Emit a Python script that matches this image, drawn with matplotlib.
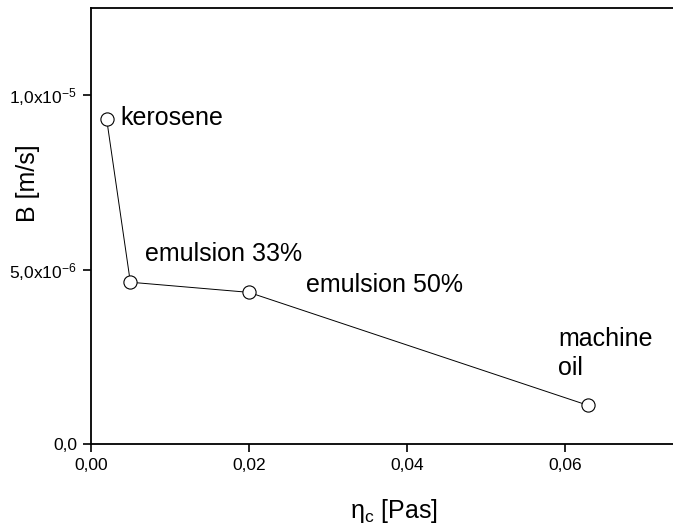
import matplotlib
matplotlib.use("Agg")
import matplotlib.pyplot as plt

plt.rcParams["font.family"] = ["Liberation Sans", "DejaVu Sans"]
plt.rcParams["mathtext.default"] = "regular"

viscosity = [0.002, 0.005, 0.020, 0.063]
coefficient = [9.31e-6, 4.64e-6, 4.35e-6, 1.11e-6]
fluids = ["kerosene", "emulsion 33%", "emulsion 50%", "machine\noil"]
label_pos = [(0.0038, 9.35e-6), (0.0068, 5.45e-6), (0.0272, 4.57e-6), (0.0592, 2.6e-6)]

x_ticks = [0.0, 0.02, 0.04, 0.06]
x_tick_labels = ["0,00", "0,02", "0,04", "0,06"]
y_ticks = [0.0, 5e-6, 1e-5]
y_tick_labels = ["0,0", "5,0x10$^{-6}$", "1,0x10$^{-5}$"]


def main():
    fig = plt.figure(figsize=(6.73, 5.27), dpi=100)
    ax = fig.add_axes([0.135, 0.157, 0.865, 0.827])

    ax.plot(viscosity, coefficient, color="black", lw=0.7,
            marker="o", ms=9.5, mfc="white", mec="black", mew=0.8)

    for name, (tx, ty) in zip(fluids, label_pos):
        ax.text(tx, ty, name, fontsize=18, va="center", ha="left",
                linespacing=1.3)

    ax.set_xlim(0, 0.0737)
    ax.set_ylim(0, 1.248e-5)

    ax.set_xticks(x_ticks, x_tick_labels)
    ax.set_yticks(y_ticks, y_tick_labels)

    ax.tick_params(direction="out", length=6, width=1.2, labelsize=12.5, pad=4)
    for side in ["left", "bottom", "top"]:
        ax.spines[side].set_linewidth(1.3)
    ax.spines["right"].set_visible(False)

    ax.set_xlabel(r"$\eta_c$ [Pas]", fontsize=18)
    ax.set_ylabel("B [m/s]", fontsize=18)
    ax.yaxis.set_label_coords(-0.088, 0.60)
    ax.xaxis.set_label_coords(0.52, -0.12)

    fig.savefig("out.png", dpi=100)


if __name__ == "__main__":
    main()
